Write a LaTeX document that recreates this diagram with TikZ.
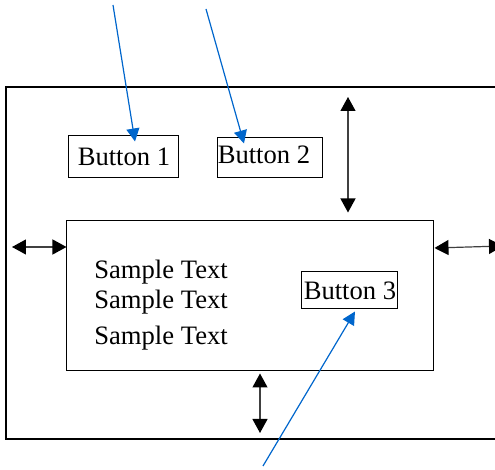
\documentclass[tikz,border=0pt]{standalone}
\usepackage{fontspec}
\setmainfont{Liberation Serif}
\usetikzlibrary{
    positioning,
    arrows.meta,
    calc
}
\definecolor{linkBlue}{RGB}{0, 102, 204}

\begin{document}
\begin{tikzpicture}[x=0.5pt, y=-0.5pt, font=\fontsize{13.3}{15}\selectfont,
    button/.style={draw, line width=0.5pt, inner sep=0pt},
    dbl/.style={{Triangle[length=7pt,width=7.5pt,black]}-{Triangle[length=7pt,width=7.5pt,black]}, line width=0.6pt, black!75},
    pointer/.style={-{Triangle[length=6.5pt,width=6.5pt]}, linkBlue, line width=0.6pt}]
        \clip (0,0) rectangle (495,470);
        % Window frame
        \draw[line width=1.3pt] (510,87) -- (6,87) -- (6,439) -- (510,439);
        \coordinate (frameT) at (348,87);
        \coordinate (frameL) at (6,247);
        \coordinate (frameB) at (260,439);
        \coordinate (frameR) at (503,246);

        % Buttons on top
        \node[button, minimum width=55pt, minimum height=21pt] (btn1) at (124,157) {Button 1};
        \node[button, minimum width=52pt, minimum height=20pt, text depth=3pt] (btn2) at (270,158) {Button 2\hspace*{6pt}};

        % Panel
        \node[draw, line width=0.5pt, minimum width=183.5pt, minimum height=75pt] (panel) at (250.5,296) {};
        \node[anchor=base west, inner sep=0pt] (txt1) at (94,279) {Sample Text};
        \node[anchor=base west, inner sep=0pt] (txt2) at (94,309) {Sample Text};
        \node[anchor=base west, inner sep=0pt] (txt3) at (94,345) {Sample Text};
        \node[button, minimum width=48pt, minimum height=18.5pt] (btn3) at (350,290.5) {Button 3};

        % Spacing arrows
        \draw[dbl, shorten <=5pt, shorten >=4pt] (frameT) -- (frameT |- panel.north);
        \draw[dbl, shorten <=3pt] (frameL) -- (frameL -| panel.west);
        \draw[dbl] (panel.east |- 0,248) -- (frameR);
        \draw[dbl, shorten <=1pt, shorten >=3pt] (panel.south -| frameB) -- (frameB);

        % Pointers
        \coordinate (src1) at (113,5);
        \coordinate (src2) at (206,9);
        \coordinate (src3) at (263,466);
        \draw[pointer] (src1) -- ($(btn1.north)+(11,6)$);
        \draw[pointer] (src2) -- ($(btn2.north)+(-26,6)$);
        \draw[pointer] (src3) -- ($(btn3.south)+(5,2)$);
    \end{tikzpicture}
\end{document}
